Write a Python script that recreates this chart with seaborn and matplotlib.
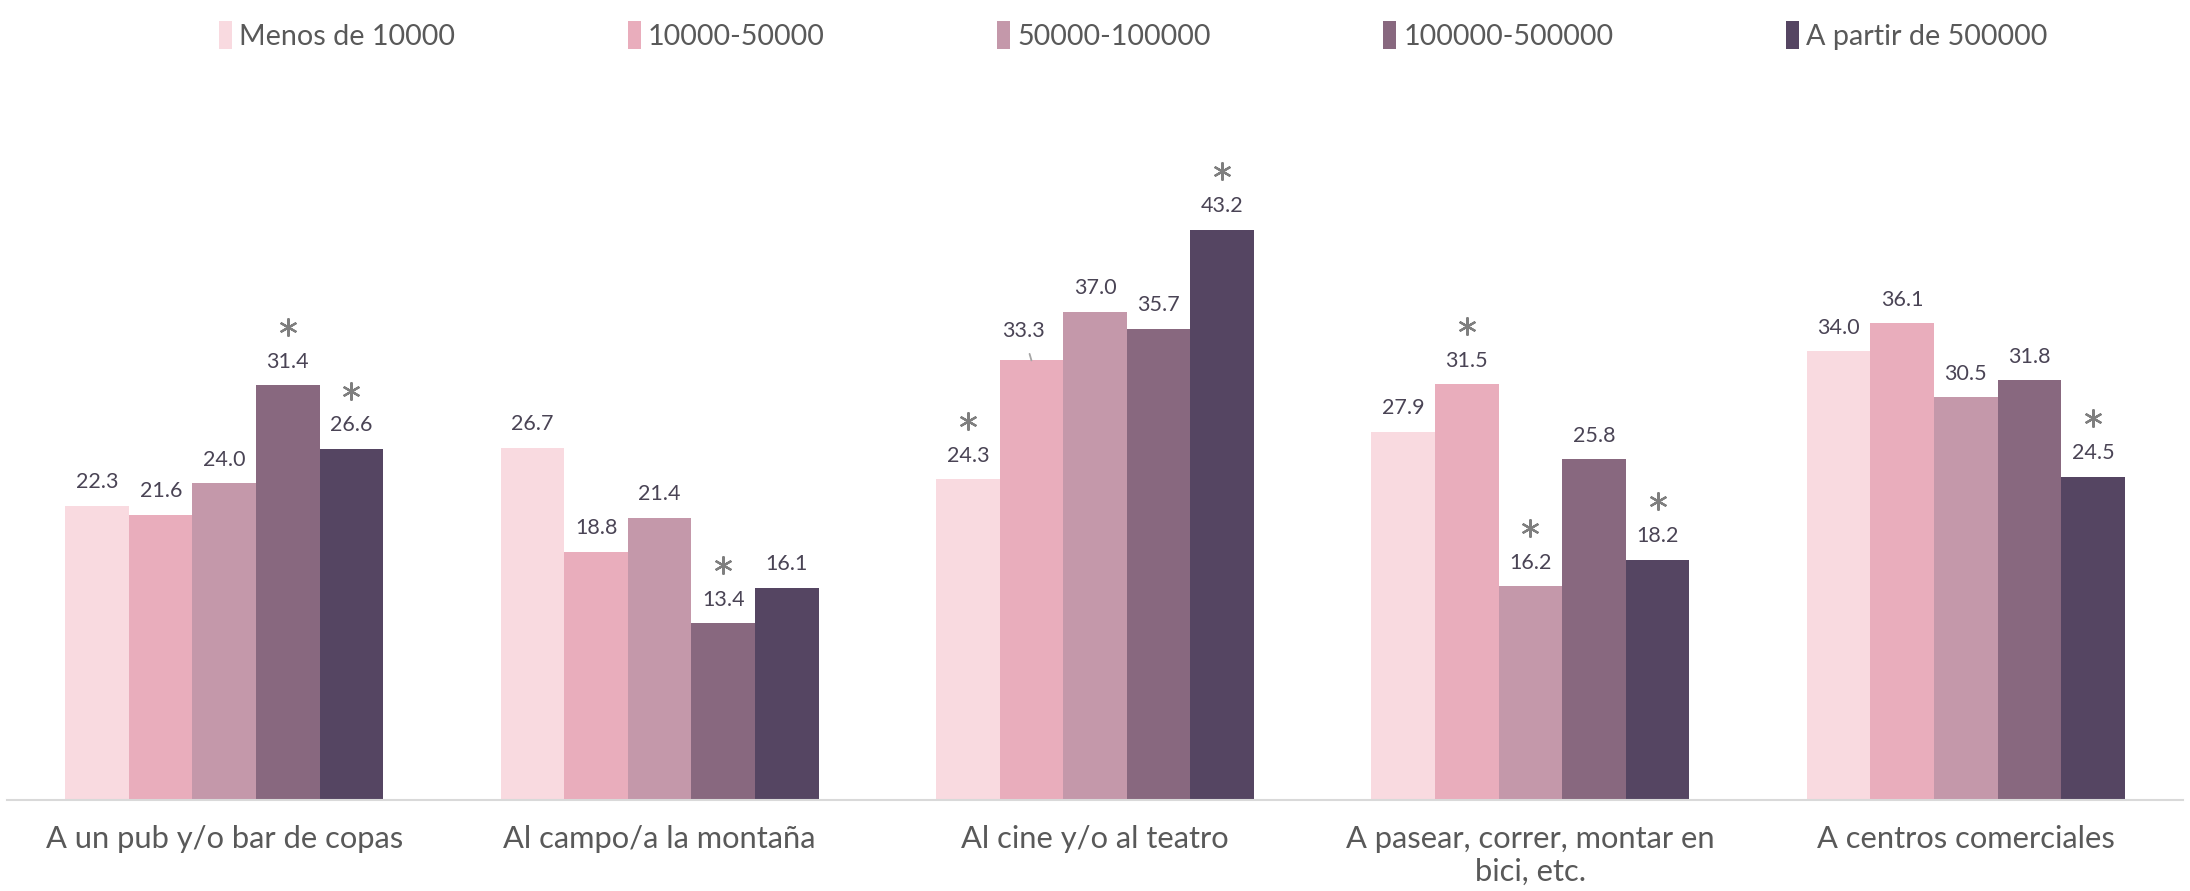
import matplotlib
matplotlib.use("Agg")
import matplotlib.pyplot as plt
import matplotlib.transforms as mtransforms
import seaborn as sns
import pandas as pd

categories = ["A un pub y/o bar de copas", "Al campo/a la montaña", "Al cine y/o al teatro",
              "A pasear, correr, montar en\nbici, etc.", "A centros comerciales"]
groups = ["Menos de 10000", "10000-50000", "50000-100000", "100000-500000", "A partir de 500000"]
values = {
    "Menos de 10000":     [22.3, 26.7, 24.3, 27.9, 34.0],
    "10000-50000":        [21.6, 18.8, 33.3, 31.5, 36.1],
    "50000-100000":       [24.0, 21.4, 37.0, 16.2, 30.5],
    "100000-500000":      [31.4, 13.4, 35.7, 25.8, 31.8],
    "A partir de 500000": [26.6, 16.1, 43.2, 18.2, 24.5],
}
significant = {
    "Menos de 10000":     [False, False, True, False, False],
    "10000-50000":        [False, False, False, True, False],
    "50000-100000":       [False, False, False, True, False],
    "100000-500000":      [True, True, False, False, False],
    "A partir de 500000": [True, False, True, True, True],
}
colors = ["#F9DAE0", "#E9ADBC", "#C498AA", "#88687F", "#554562"]

rows = []
for g in groups:
    for c, v in zip(categories, values[g]):
        rows.append({"cat": c, "grp": g, "val": v})
df = pd.DataFrame(rows)

sns.set_theme(style="white")
plt.rcParams['font.family'] = ['Lato', 'DejaVu Sans']

fig = plt.figure(figsize=(21.9, 8.91), dpi=100)
ax = fig.add_axes([0.003, 0.102, 0.994, 0.741])

sns.barplot(data=df, x="cat", y="val", hue="grp", order=categories, hue_order=groups,
            palette=colors, width=0.73, linewidth=0, saturation=1, errorbar=None, ax=ax)

ax.set_ylim(0, 50)
ax.set_xlim(-0.5, 4.5)
label_color = "#4A4455"
star_tr = mtransforms.offset_copy(ax.transData, fig=fig, y=42, units="points")
for cont, g in zip(ax.containers, groups):
    for i, (bar, v, s) in enumerate(zip(cont.patches, values[g], significant[g])):
        x = bar.get_x() + bar.get_width() / 2
        y = bar.get_height()
        if g == "10000-50000" and i == 2:
            # label nudged with a leader line, as in the original
            ax.annotate(f"{v:.1f}", (x, y), xytext=(-6, 21), textcoords="offset points",
                        ha="center", va="center", fontsize=15.5, color=label_color,
                        arrowprops=dict(arrowstyle="-", color="#A6A6A6", lw=1.3,
                                        shrinkA=7, shrinkB=0))
        else:
            ax.annotate(f"{v:.1f}", (x, y), xytext=(0, 17), textcoords="offset points",
                        ha="center", va="center", fontsize=15.5, color=label_color)
        if s:
            ax.plot([x], [y], transform=star_tr, marker=(6, 2, 0), markersize=13,
                    markeredgewidth=1.6, color="#7F7F7F", linestyle="none", clip_on=False)

ax.set_xlabel("")
ax.set_ylabel("")
ax.set_yticks([])
ax.tick_params(axis="x", length=0, pad=18, labelsize=22.2, labelcolor="#595959")
for sp in ["top", "right", "left"]:
    ax.spines[sp].set_visible(False)
ax.spines["bottom"].set_color("#D9D9D9")
ax.spines["bottom"].set_linewidth(1.5)

handles, labels = ax.get_legend_handles_labels()
ax.legend_.remove()
fig.legend(handles, labels, loc="upper center", bbox_to_anchor=(0.5175, 1.005), ncol=5,
           frameon=False, fontsize=20.7, handlelength=0.45, handleheight=1.1,
           handletextpad=0.25, columnspacing=6.0, labelcolor="#595959")

fig.savefig("out.png", dpi=100)
